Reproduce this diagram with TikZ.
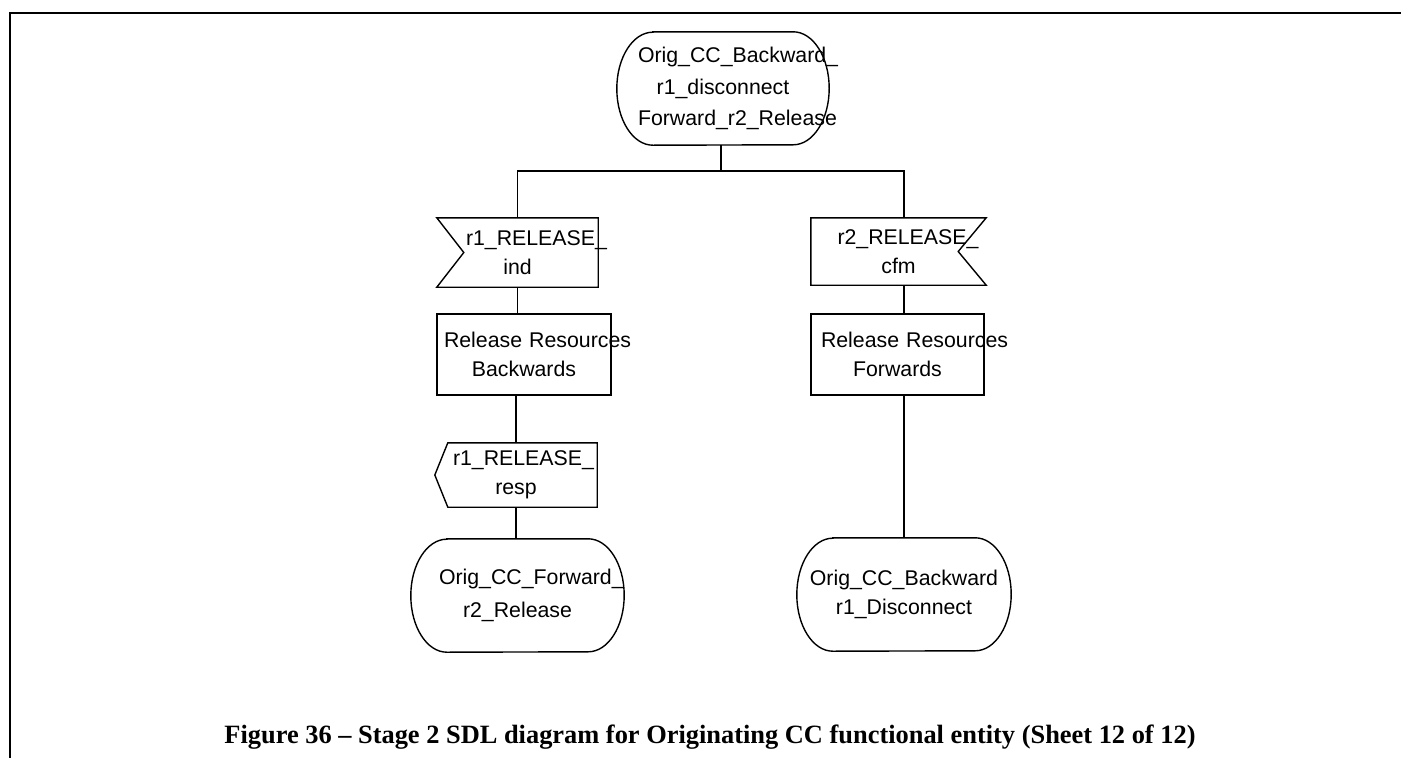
\documentclass[tikz,border=0pt]{standalone}
\usepackage{fontspec}
\setmainfont{Liberation Sans}
\newfontfamily\capfont{Liberation Serif}

\begin{document}
\begin{tikzpicture}[
  x=1pt, y=1pt,
  sdl/.style={draw=black, line width=1.4pt, line join=miter},
  sym/.style={rectangle, align=center, inner sep=2pt, font=\fontsize{21.3}{29}\selectfont},
  task/.style={sym, draw=black, line width=1.4pt},
  wire/.style={draw=black, line width=1.4pt},
  frame/.style={draw=black, line width=2.2pt},
  caption/.style={font=\capfont\bfseries\fontsize{26.4}{30}\selectfont, inner sep=0pt}
]
\useasboundingbox (0,0) rectangle (1401,-758);

% Page frame
\draw[frame] (10.3,-758) -- (10.3,-13) -- (1401,-13);

% Start state
\node[sym, minimum width=212pt, minimum height=113pt, text width=170pt, font=\fontsize{21.3}{31.5}\selectfont] (stTop) at (723,-88.5)
  {\mbox{Orig\_CC\_Backward\_}\\r1\_disconnect\\\mbox{Forward\_r2\_Release}};

% Inputs
\node[sym, minimum width=161pt, minimum height=69pt, text width=103pt] (inR1ind) at (517.5,-252.5)
  {\mbox{r1\_RELEASE\_}\\ind};
\node[sym, minimum width=175pt, minimum height=67pt, text width=122pt] (inR2cfm) at (898.5,-251.5)
  {\mbox{r2\_RELEASE\_}\\cfm};

% Tasks
\node[task, minimum width=174pt, minimum height=81pt, text width=160pt] (tkBwd) at (524,-354.5)
  {\mbox{Release Resources}\\Backwards};
\node[task, minimum width=173pt, minimum height=81pt, text width=153pt] (tkFwd) at (897.5,-354.5)
  {\mbox{Release Resources}\\Forwards};

% Output
\node[sym, minimum width=162pt, minimum height=64pt, text width=126pt] (outR1resp) at (516,-475)
  {\mbox{r1\_RELEASE\_}\\resp};

% Next states
\node[sym, minimum width=213pt, minimum height=113pt, text width=157pt, font=\fontsize{21.3}{33}\selectfont] (stFwd) at (517.5,-595.5)
  {\mbox{Orig\_CC\_Forward\_}\\r2\_Release};
\node[sym, minimum width=214pt, minimum height=113pt, text width=190pt] (stBwd) at (904,-594.5)
  {\mbox{Orig\_CC\_Backward}\\r1\_Disconnect};

% Symbol outlines
\foreach \st in {stTop,stFwd,stBwd}
  \draw[sdl] ([xshift=36pt]\st.north west) -- ([xshift=-36pt]\st.north east)
    arc[start angle=90, end angle=-90, x radius=36pt, y radius=56.5pt]
    -- ([xshift=36pt]\st.south west)
    arc[start angle=270, end angle=90, x radius=36pt, y radius=56.5pt] -- cycle;
\draw[sdl] (inR1ind.north west) -- (inR1ind.north east) -- (inR1ind.south east)
  -- (inR1ind.south west) -- ([xshift=27pt]inR1ind.west) -- cycle;
\draw[sdl] (inR2cfm.north east) -- (inR2cfm.north west) -- (inR2cfm.south west)
  -- (inR2cfm.south east) -- ([xshift=-28pt]inR2cfm.east) -- cycle;
\draw[sdl] ([xshift=13pt]outR1resp.north west) -- (outR1resp.north east) -- (outR1resp.south east)
  -- ([xshift=13pt]outR1resp.south west) -- (outR1resp.west) -- cycle;

% Connections
\coordinate (split) at (721,-171);
\draw[wire] (split |- stTop.south) -- (split);
\draw[wire] (inR1ind.north) |- (split) -| (inR2cfm.north -| stBwd.north);
\draw[wire] (inR1ind.south) -- (inR1ind.south |- tkBwd.north);
\draw[wire] (tkBwd.south -| outR1resp.north) -- (outR1resp.north);
\draw[wire] (outR1resp.south) -- (outR1resp.south |- stFwd.north);
\draw[wire] (inR2cfm.south -| stBwd.north) -- (tkFwd.north -| stBwd.north);
\draw[wire] (tkFwd.south -| stBwd.north) -- (stBwd.north);

% Caption
\node[caption, anchor=base] (cap) at (710,-743)
  {Figure 36 – Stage 2 SDL diagram for Originating CC functional entity (Sheet 12 of 12)};
\end{tikzpicture}
\end{document}
